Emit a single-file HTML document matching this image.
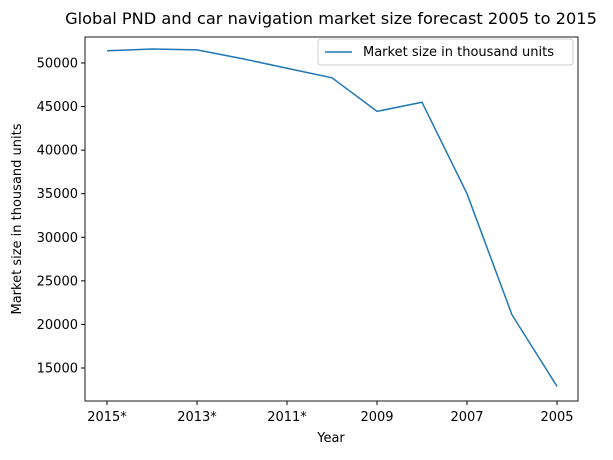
<!DOCTYPE html>
<html><head><meta charset="utf-8"><style>
body{margin:0;background:#fff;}
svg{font-family:"DejaVu Sans","Liberation Sans",sans-serif;}
</style></head><body>
<svg id="chart" width="613" height="455" xmlns="http://www.w3.org/2000/svg">
<rect width="613" height="455" fill="#fff"/>
<text x="331" y="24" font-size="16.2" text-anchor="middle">Global PND and car navigation market size forecast 2005 to 2015</text>
<g id="axes"></g>
<rect x="85" y="37" width="493" height="364" fill="none" stroke="#000" stroke-width="0.9"/>
<text x="331" y="442" font-size="13" text-anchor="middle">Year</text>
<text transform="translate(21,219) rotate(-90)" font-size="13" text-anchor="middle">Market size in thousand units</text>
<g>
<rect x="318" y="39" width="255" height="26" rx="3" fill="#fff" stroke="#ccc"/>
<line x1="325" y1="52" x2="352" y2="52" stroke="#1f77b4" stroke-width="1.5"/>
<text x="363" y="56" font-size="13">Market size in thousand units</text>
</g>
</svg>
<script>
const categories=["2015*","2014*","2013*","2012*","2011*","2010","2009","2008","2007","2006","2005"];
const values=[51400,51600,51500,50500,49400,48300,44450,45500,35000,21100,12900];
const yTicks=[15000,20000,25000,30000,35000,40000,45000,50000];
const xTickLabels=["2015*","2013*","2011*","2009","2007","2005"];
const NS="http://www.w3.org/2000/svg";
const g=document.getElementById("axes");
function xs(i){return 107+i*(557-107)/(categories.length-1);}
function ys(v){return 63+(50000-v)*(368-63)/35000;}
function mk(t,a){const e=document.createElementNS(NS,t);for(const k in a)e.setAttribute(k,a[k]);g.appendChild(e);return e;}
yTicks.forEach(v=>{
  const y=ys(v);
  const l=mk("line",{x1:81,x2:85,y1:y,y2:y,stroke:"#000"});
  
  
  const t=mk("text",{x:78,y:y+4.5,"font-size":13,"text-anchor":"end"});
  t.textContent=v;
  
  
});
xTickLabels.forEach(lab=>{
  const x=xs(categories.indexOf(lab));
  const l=mk("line",{x1:x,x2:x,y1:401,y2:405,stroke:"#000"});
  
  
  const t=mk("text",{x:x,y:421,"font-size":13,"text-anchor":"middle"});
  t.textContent=lab;
  
  
});
const p=mk("polyline",{points:values.map((v,i)=>xs(i)+","+ys(v)).join(" "),fill:"none",stroke:"#1f77b4","stroke-width":1.5});


</script>
</body></html>
